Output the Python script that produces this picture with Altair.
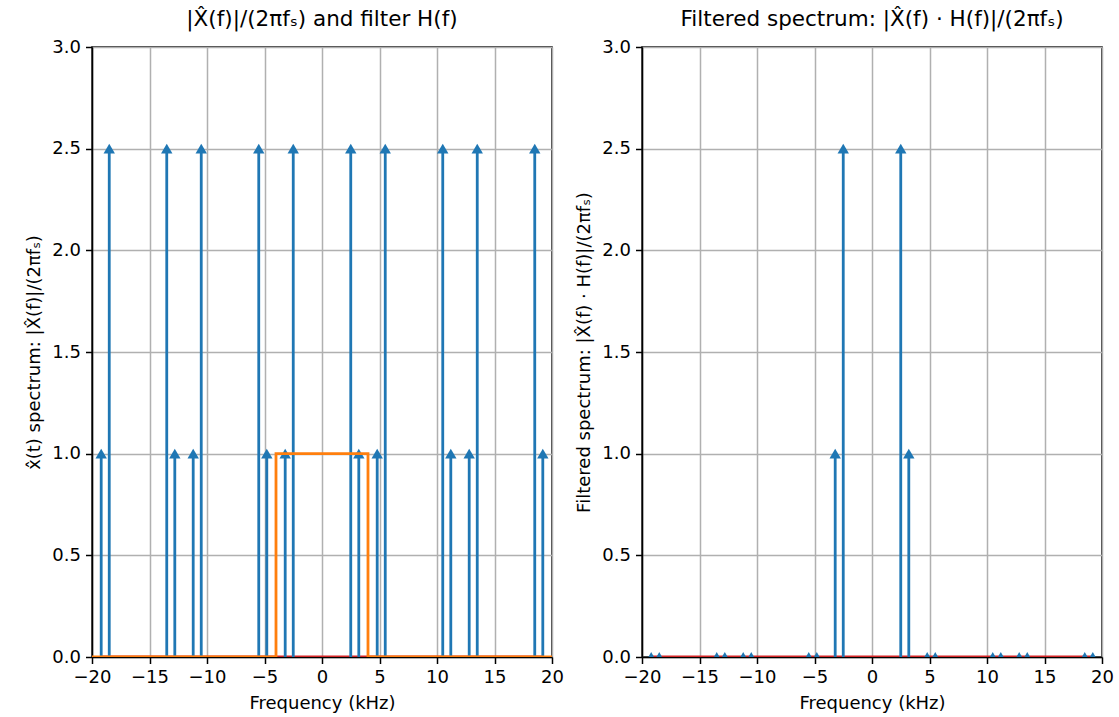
import altair as alt
import pandas as pd

# Spectrum lines (kHz) and their magnitudes
freqs = [-19.2, -18.5, -13.5, -12.8, -11.2, -10.5, -5.5, -4.8, -3.2, -2.5,
         2.5, 3.2, 4.8, 5.5, 10.5, 11.2, 12.8, 13.5, 18.5, 19.2]
amps = [1.0, 2.5, 2.5, 1.0, 1.0, 2.5, 2.5, 1.0, 1.0, 2.5,
        2.5, 1.0, 1.0, 2.5, 2.5, 1.0, 1.0, 2.5, 2.5, 1.0]
filtered_amps = [0.0, 0.0, 0.0, 0.0, 0.0, 0.0, 0.0, 0.0, 1.0, 2.5,
                 2.5, 1.0, 0.0, 0.0, 0.0, 0.0, 0.0, 0.0, 0.0, 0.0]

# Ideal low-pass filter H(f)
filter_f = [-20, -4, -4, 4, 4, 20]
filter_h = [0, 0, 1, 1, 0, 0]

x_ticks = [-20, -15, -10, -5, 0, 5, 10, 15, 20]
y_ticks = [0.0, 0.5, 1.0, 1.5, 2.0, 2.5, 3.0]

BLUE = "#1f77b4"
ORANGE = "#ff7f0e"
RED = "#d62728"
FONT = "DejaVu Sans"
LW = 2.8

spec = pd.DataFrame({"f": freqs, "a": amps, "af": filtered_amps, "zero": 0.0})
filt = pd.DataFrame({"f": filter_f, "h": filter_h, "order": list(range(len(filter_f)))})
base = pd.DataFrame({"f": [min(freqs)], "f2": [max(freqs)], "y": [0.0]})

xscale = alt.Scale(domain=[-20, 20], nice=False, zero=False)
yscale = alt.Scale(domain=[0, 3], nice=False)


def xaxis():
    return alt.Axis(title="Frequency (kHz)", values=x_ticks, format="d",
                    labelFlush=False, labelOverlap=False)


def yaxis(title):
    return alt.Axis(title=title, values=y_ticks, format=".1f",
                    labelFlush=False, labelOverlap=False)


def panel(col, title, ytitle, with_filter):
    baseline = alt.Chart(base).mark_rule(color=RED, strokeWidth=LW, clip=True).encode(
        x=alt.X("f:Q", scale=xscale, axis=xaxis()),
        x2="f2:Q",
        y=alt.Y("y:Q", scale=yscale, axis=yaxis(ytitle)),
    )
    stems = alt.Chart(spec).mark_rule(color=BLUE, strokeWidth=LW, clip=True).encode(
        x=alt.X("f:Q", scale=xscale),
        y=alt.Y("zero:Q", scale=yscale),
        y2=f"{col}:Q",
    )
    marks = alt.Chart(spec).mark_point(
        shape="triangle-up", filled=True, color=BLUE, size=130, opacity=1, clip=True
    ).encode(
        x=alt.X("f:Q", scale=xscale),
        y=alt.Y(f"{col}:Q", scale=yscale),
    )
    layers = [baseline, stems, marks]
    if with_filter:
        hline = alt.Chart(filt).mark_line(color=ORANGE, strokeWidth=LW, clip=True).encode(
            x=alt.X("f:Q", scale=xscale),
            y=alt.Y("h:Q", scale=yscale),
            order="order:Q",
        )
        layers.append(hline)
    return alt.layer(*layers).properties(
        width=460, height=610,
        title=alt.TitleParams(title, fontSize=21.5, font=FONT, fontWeight="normal", offset=8),
    )


left = panel("a", "|X̂(f)|/(2πfₛ) and filter H(f)",
             "x̂(t) spectrum: |X̂(f)|/(2πfₛ)", True)
right = panel("af", "Filtered spectrum: |X̂(f) · H(f)|/(2πfₛ)",
              "Filtered spectrum: |X̂(f) · H(f)|/(2πfₛ)", False)

chart = alt.hconcat(left, right, spacing=10).properties(
    padding={"left": 25, "top": 7, "right": 0, "bottom": 4},
    background="white",
).configure_view(
    stroke="black", strokeWidth=1.5
).configure_axis(
    labelFont=FONT, titleFont=FONT, labelFontSize=18, titleFontSize=18,
    labelColor="black", titleColor="black", titleFontWeight="normal",
    domainColor="black", domainWidth=1.5, tickColor="black", tickSize=6.5, tickWidth=1.5,
    grid=True, gridColor="#b0b0b0", gridWidth=1.5, labelPadding=5, titlePadding=8,
).configure_title(color="black")

chart.save("out.html", embed_options={"renderer": "svg", "actions": False})
